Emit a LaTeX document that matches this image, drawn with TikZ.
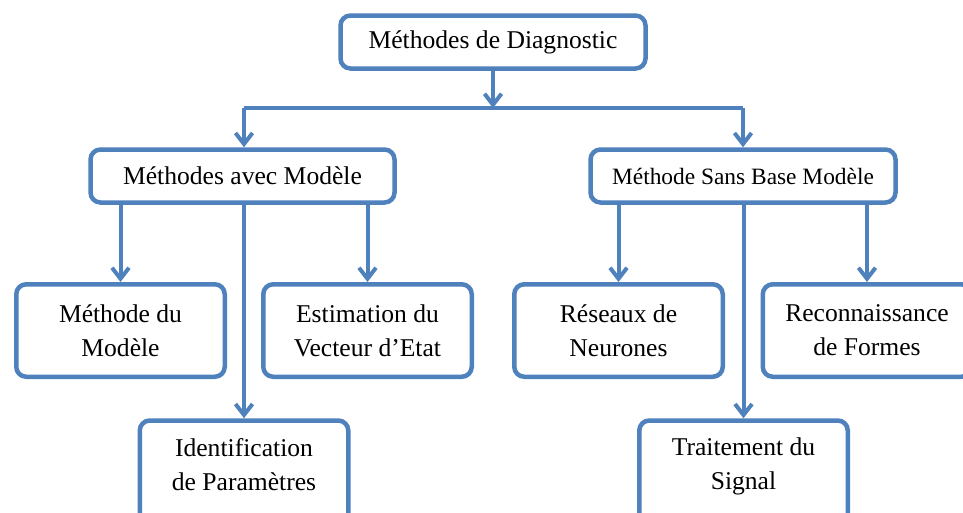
\documentclass[tikz,border=0pt]{standalone}
\usepackage{fontspec}
\setmainfont{Liberation Serif}
\usetikzlibrary{arrows.meta}
\definecolor{boxblue}{RGB}{79,129,189}
\tikzset{
  box/.style={draw=boxblue, line width=4.5pt, rounded corners=10pt, fill=white,
    align=center, inner sep=0pt, font=\fontsize{25.6}{34}\selectfont},
  topbox/.style={box, minimum width=305pt, minimum height=53pt},
  childbox/.style={box, minimum width=208.5pt, minimum height=92.5pt},
  lowbox/.style={childbox, minimum height=104pt},
  link/.style={draw=boxblue, line width=4pt},
  arr/.style={link, -{Straight Barb[length=11pt,width=17pt]}},
}
\begin{document}
\begin{tikzpicture}[x=1pt,y=-1pt]
\useasboundingbox (0,0) rectangle (963,512);
\clip (0,0) rectangle (963,512);
\fill[white] (0,0) rectangle (963,512);

\node[topbox] (top) at (493,42) {Méthodes de Diagnostic};
\node[topbox, minimum width=304pt] (avec) at (242.5,176) {Méthodes avec Modèle};
\node[topbox, font=\fontsize{23.4}{30}\selectfont] (sans) at (743,176) {Méthode Sans Base Modèle};

\node[childbox] (mdm) at (120.5,330.5) {Méthode du\\Modèle};
\node[childbox] (est) at (367.5,330.5) {Estimation du\\Vecteur d’Etat};
\node[lowbox] (idp) at (244,472.5) {Identification\\de Paramètres\rule[-17pt]{0pt}{0pt}};

\node[childbox] (res) at (618.5,330.5) {Réseaux de\\Neurones};
\node[childbox] (rec) at (867,330.5) {Reconnaissance\\de Formes};
\node[lowbox] (sig) at (743.5,472.5) {Traitement du\\Signal\rule[-17pt]{0pt}{0pt}};

\coordinate (jM) at (493,108);
\coordinate (jL) at (244,108);
\coordinate (jR) at (743,108);

\draw[link] (jL) -- (jR);
\draw[arr] (top.south) -- (jM);
\draw[arr] (jL) -- (jL |- avec.north);
\draw[arr] (jR) -- (jR |- sans.north);

\draw[arr] (mdm.north |- avec.south) -- (mdm.north);
\draw[arr] (est.north |- avec.south) -- (est.north);
\draw[arr] (idp.north |- avec.south) -- (idp.north);

\draw[arr] (res.north |- sans.south) -- (res.north);
\draw[arr] (rec.north |- sans.south) -- (rec.north);
\draw[arr] (sig.north |- sans.south) -- (sig.north);
\end{tikzpicture}
\end{document}
